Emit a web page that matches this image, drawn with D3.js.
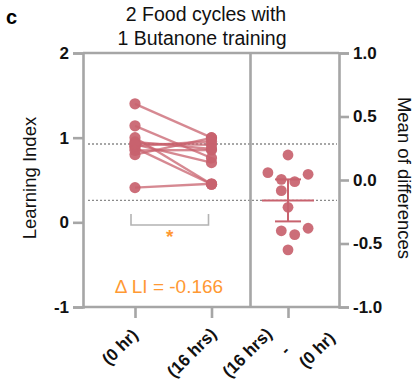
<!DOCTYPE html>
<html>
<head>
<meta charset="utf-8">
<script src="https://cdn.jsdelivr.net/npm/d3@7"></script>
<style>
  html, body { margin: 0; padding: 0; background: #fff; }
  svg { display: block; font-family: "Liberation Sans", Arial, sans-serif; }
</style>
</head>
<body>
<svg id="chart" width="415" height="389"></svg>
<script>
// ---- data ----
const categories = ["(0 hr)", "(16 hrs)", "diff"];
const li0hr  = [1.40, 1.14, 0.41, 1.00, 0.88, 0.80, 0.90, 0.85, 0.93, 0.95, 0.92];
const li16hr = [1.00, 0.76, 0.455, 0.45, 0.45, 0.997, 0.958, 0.855, 0.917, 0.866, 0.705];
const swarmSlot = [-1, 3, 3, 0, 1, 0, -3, -1, 1, -1, 0];
const leftTicks = [2, 1, 0, -1];
const rightTicks = [1.0, 0.5, 0.0, -0.5, -1.0];
const tCrit = 2.228; // t(0.975, df=10)
const titleLines = ["2 Food cycles with", "1 Butanone training"];
const deltaText = "\u0394 LI = -0.166";

// ---- setup ----
const svg = d3.select("#chart");
const axisColor = "#a6a6a6";
const dotColor = "#c8626e";
const orange = "#ff9933";

const yL = d3.scaleLinear().domain([-1, 2]).range([307, 53]);
const yR = d3.scaleLinear().domain([-1, 1]).range([307, 53]);
const x = d3.scalePoint().domain(categories).range([135, 288]);
const xLeft = 83, xDiv = 250.5, xRight = 339;

const diffs = li0hr.map((v, i) => li16hr[i] - v);
const meanDiff = d3.mean(diffs);
const ci = tCrit * d3.deviation(diffs) / Math.sqrt(diffs.length);
const mean0 = d3.mean(li0hr);

const hyph = f => v => f(v).replace("\u2212", "-");

// panel label
svg.append("text").attr("x", 6).attr("y", 24).attr("font-size", 20).attr("font-weight", "bold").text("c");

// title
svg.append("g").selectAll("text").data(titleLines).join("text")
  .attr("x", (d, i) => i === 0 ? 206 : 202)
  .attr("y", (d, i) => 21 + i * 23.5)
  .attr("text-anchor", "middle").attr("font-size", 19.5).attr("fill", "#111")
  .text(d => d);

// dashed reference lines
svg.append("line").attr("x1", xLeft + 5).attr("x2", xRight - 2)
  .attr("y1", yL(mean0)).attr("y2", yL(mean0))
  .attr("stroke", "#8a8a8a").attr("stroke-width", 1.4).attr("stroke-dasharray", "2,2");
svg.append("line").attr("x1", xLeft + 5).attr("x2", xRight - 2)
  .attr("y1", yR(meanDiff)).attr("y2", yR(meanDiff))
  .attr("stroke", "#8a8a8a").attr("stroke-width", 1.4).attr("stroke-dasharray", "2,2");

// frame
const frame = svg.append("g").attr("stroke", axisColor).attr("stroke-width", 2.6).attr("fill", "none");
frame.append("line").attr("x1", xLeft).attr("x2", xRight).attr("y1", 53).attr("y2", 53);
frame.append("line").attr("x1", xLeft).attr("x2", xRight).attr("y1", 307).attr("y2", 307);
frame.append("line").attr("x1", xDiv).attr("x2", xDiv).attr("y1", 53).attr("y2", 307);

// left axis
const gL = svg.append("g").attr("transform", `translate(${xLeft},0)`)
  .call(d3.axisLeft(yL).tickValues(leftTicks).tickFormat(hyph(d3.format("d"))).tickSize(10).tickPadding(4));
// right axis
const gR = svg.append("g").attr("transform", `translate(${xRight},0)`)
  .call(d3.axisRight(yR).tickValues(rightTicks).tickFormat(hyph(d3.format(".1f"))).tickSize(10).tickPadding(4));
// bottom axis
const gB = svg.append("g").attr("transform", `translate(0,307)`)
  .call(d3.axisBottom(x).tickSize(11).tickFormat(""));
[gL, gR, gB].forEach(g => {
  g.select(".domain").attr("stroke", axisColor).attr("stroke-width", 2.6);
  g.selectAll(".tick line").attr("stroke", axisColor).attr("stroke-width", 2.6);
  g.selectAll(".tick text").attr("font-size", 17).attr("font-weight", "bold").attr("fill", "#111")
    .attr("font-family", "Liberation Sans, Arial, sans-serif");
});
gB.select(".domain").remove();

// x labels (rotated)
const xLabels = [
  { cat: "(0 hr)", text: "(0 hr)", dx: 4, y: 336 },
  { cat: "(16 hrs)", text: "(16 hrs)", dx: 6, y: 335 },
  { cat: "diff", text: "(16 hrs)", dx: -15, y: 335 },
  { cat: "diff", text: "-", dx: 3, y: 352 },
  { cat: "diff", text: "(0 hr)", dx: 48, y: 339 }
];
svg.append("g").selectAll("text").data(xLabels).join("text")
  .attr("transform", d => `translate(${x(d.cat) + d.dx},${d.y}) rotate(-45)`)
  .attr("text-anchor", "end").attr("font-size", 17).attr("font-weight", "bold").attr("fill", "#111")
  .text(d => d.text);

// axis titles
svg.append("text").attr("transform", "translate(36,178) rotate(-90)")
  .attr("text-anchor", "middle").attr("font-size", 18.5).attr("fill", "#111").text("Learning Index");
svg.append("text").attr("transform", "translate(398,178) rotate(90)")
  .attr("text-anchor", "middle").attr("font-size", 18.5).attr("fill", "#111").text("Mean of differences");

// paired lines
const pairs = li0hr.map((v, i) => ({ a: v, b: li16hr[i] }));
svg.append("g").selectAll("line").data(pairs).join("line")
  .attr("x1", x("(0 hr)")).attr("x2", x("(16 hrs)"))
  .attr("y1", d => yL(d.a)).attr("y2", d => yL(d.b))
  .attr("stroke", dotColor).attr("stroke-opacity", 0.75).attr("stroke-width", 2.4);
// dots
const dotsG = svg.append("g").attr("fill", dotColor).attr("fill-opacity", 0.92);
dotsG.selectAll("circle.a").data(li0hr).join("circle").attr("class", "a")
  .attr("cx", x("(0 hr)")).attr("cy", d => yL(d)).attr("r", 5.6);
dotsG.selectAll("circle.b").data(li16hr).join("circle").attr("class", "b")
  .attr("cx", x("(16 hrs)")).attr("cy", d => yL(d)).attr("r", 5.6);

// differences
dotsG.selectAll("circle.d").data(diffs).join("circle").attr("class", "d")
  .attr("cx", (d, i) => x("diff") + swarmSlot[i] * 6.7).attr("cy", d => yR(d)).attr("r", 5.4);

// mean and CI
const mg = svg.append("g").attr("stroke", dotColor).attr("stroke-width", 2);
mg.append("line").attr("x1", x("diff") - 26).attr("x2", x("diff") + 26)
  .attr("y1", yR(meanDiff)).attr("y2", yR(meanDiff));
mg.append("line").attr("x1", x("diff")).attr("x2", x("diff"))
  .attr("y1", yR(meanDiff + ci)).attr("y2", yR(meanDiff - ci));
[meanDiff + ci, meanDiff - ci].forEach(v => {
  mg.append("line").attr("x1", x("diff") - 13).attr("x2", x("diff") + 13)
    .attr("y1", yR(v)).attr("y2", yR(v));
});

// significance bracket
const bx1 = x("(0 hr)") - 4, bx2 = x("(16 hrs)") - 3;
svg.append("path")
  .attr("d", `M${bx1},214 V225 H${bx2} V214`)
  .attr("fill", "none").attr("stroke", "#b3b3b3").attr("stroke-width", 1.6);
svg.append("text").attr("x", (bx1 + bx2) / 2).attr("y", 243)
  .attr("text-anchor", "middle").attr("font-size", 19).attr("font-weight", "bold").attr("fill", orange).text("*");

// delta text
svg.append("text").attr("x", 169).attr("y", 293).attr("text-anchor", "middle")
  .attr("font-size", 19).attr("fill", orange).text(deltaText);
</script>
</body>
</html>
